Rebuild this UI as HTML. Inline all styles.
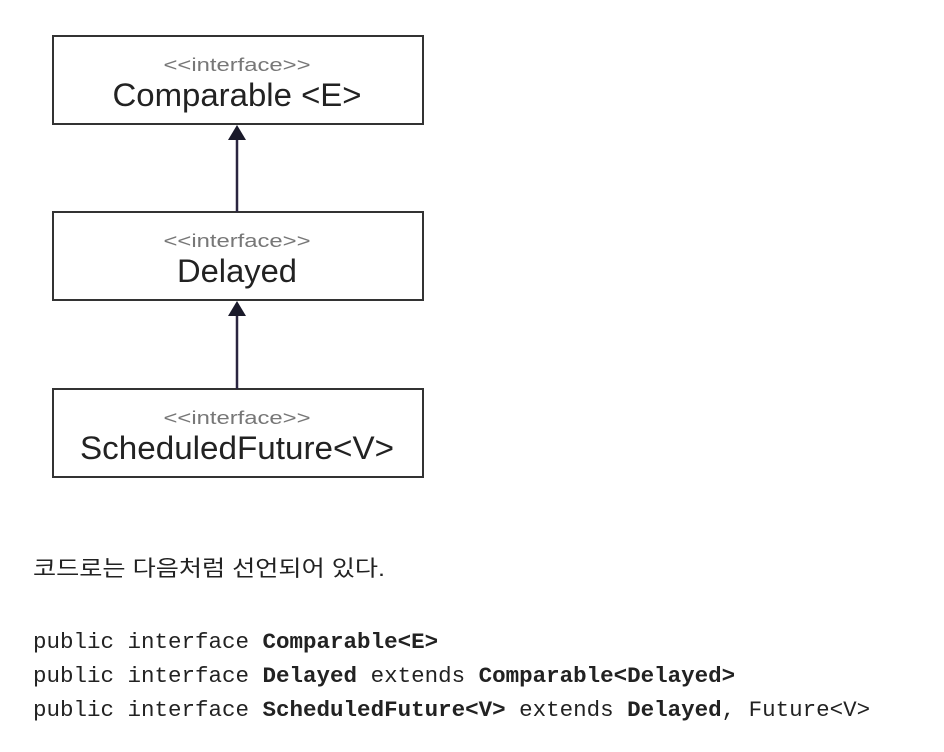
<!DOCTYPE html>
<html><head><meta charset="utf-8"><style>
html,body{margin:0;padding:0;background:#fff;width:944px;height:752px;overflow:hidden}
</style></head><body>
<svg width="944" height="752" xmlns="http://www.w3.org/2000/svg">
<g fill="#fff" stroke="#333" stroke-width="2">
<rect x="53" y="36" width="370" height="88"/>
<rect x="53" y="212" width="370" height="88"/>
<rect x="53" y="389" width="370" height="88"/>
</g>
<g stroke="#2a2540" stroke-width="2.5">
<line x1="237" y1="212" x2="237" y2="138"/>
<line x1="237" y1="389" x2="237" y2="314"/>
</g>
<g fill="#1a1a2a">
<polygon points="237,125 228,140 246,140"/>
<polygon points="237,301 228,316 246,316"/>
</g>
<g font-family="Liberation Sans, sans-serif" text-anchor="middle">
<text x="237" y="71" font-size="18" fill="#777" textLength="147" lengthAdjust="spacingAndGlyphs">&lt;&lt;interface&gt;&gt;</text>
<text x="237" y="106" font-size="32" fill="#222" textLength="249" lengthAdjust="spacingAndGlyphs">Comparable &lt;E&gt;</text>
<text x="237" y="247" font-size="18" fill="#777" textLength="147" lengthAdjust="spacingAndGlyphs">&lt;&lt;interface&gt;&gt;</text>
<text x="237" y="282" font-size="32" fill="#222" textLength="120" lengthAdjust="spacingAndGlyphs">Delayed</text>
<text x="237" y="424" font-size="18" fill="#777" textLength="147" lengthAdjust="spacingAndGlyphs">&lt;&lt;interface&gt;&gt;</text>
<text x="237" y="459" font-size="32" fill="#222" textLength="314" lengthAdjust="spacingAndGlyphs">ScheduledFuture&lt;V&gt;</text>
</g>
<text x="33" y="576" font-size="22" fill="#222" font-family="Liberation Sans, Noto Sans CJK KR, sans-serif" textLength="352" lengthAdjust="spacingAndGlyphs">코드로는 다음처럼 선언되어 있다.</text>
<g font-family="Liberation Mono, monospace" font-size="22.5" fill="#222">
<text x="33" y="648" xml:space="preserve">public interface <tspan font-weight="bold">Comparable&lt;E&gt;</tspan></text>
<text x="33" y="682" xml:space="preserve">public interface <tspan font-weight="bold">Delayed</tspan> extends <tspan font-weight="bold">Comparable&lt;Delayed&gt;</tspan></text>
<text x="33" y="716" xml:space="preserve">public interface <tspan font-weight="bold">ScheduledFuture&lt;V&gt;</tspan> extends <tspan font-weight="bold">Delayed</tspan>, Future&lt;V&gt;</text>
</g>
</svg>
</body></html>
